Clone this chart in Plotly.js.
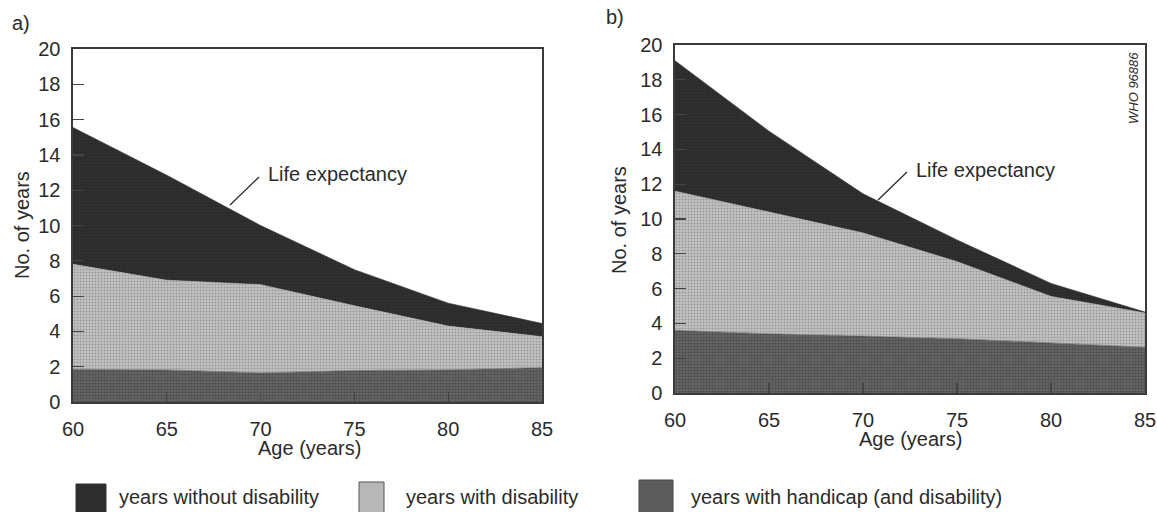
<!DOCTYPE html>
<html>
<head>
<meta charset="utf-8">
<script src="https://cdn.plot.ly/plotly-3.0.1.min.js"></script>
<style>html,body{margin:0;padding:0;background:#fff}#chart{width:1157px;height:512px}</style>
</head>
<body>
<div id="chart"></div>
<script>
// ---- data ----
const ages = [60, 65, 70, 75, 80, 85];
const xTicks = [60, 65, 70, 75, 80, 85];
const yTicks = [0, 2, 4, 6, 8, 10, 12, 14, 16, 18, 20];

// Panel a)
const aHandicap   = [1.85, 1.82, 1.65, 1.78, 1.82, 1.95];
const aDisability = [5.95, 5.08, 5.00, 3.67, 2.48, 1.75];
const aWithout    = [7.75, 5.95, 3.35, 2.05, 1.30, 0.75];

// Panel b)
const bHandicap   = [3.60, 3.40, 3.27, 3.12, 2.88, 2.63];
const bDisability = [8.00, 7.00, 5.93, 4.43, 2.67, 1.97];
const bWithout    = [7.50, 4.65, 2.25, 1.25, 0.75, 0.05];

const seriesNames = ["years without disability", "years with disability", "years with handicap (and disability)"];
const panelLabels = ["a)", "b)"];
const annotText = "Life expectancy";
const codeText = "WHO 96886";

// ---- styling ----
const W = 1157, H = 512;
const px = x => x / W;
const py = y => 1 - y / H;
const FONT = "Liberation Sans, Arial, sans-serif";
const TXT = "#2b2b2b";
const FS = 20;

const styles = {
  without:   {color: "#2e2e2e", pattern: {shape: ".", bgcolor: "#303030", fgcolor: "#272727", size: 3, solidity: 0.35}},
  disability:{color: "#b8b8b8", pattern: {shape: ".", bgcolor: "#c4c4c4", fgcolor: "#979797", size: 3, solidity: 0.35}},
  handicap:  {color: "#5c5c5c", pattern: {shape: ".", bgcolor: "#666666", fgcolor: "#4a4a4a", size: 3, solidity: 0.4}}
};

function stackTraces(xa, ya, group, handicap, disability, without) {
  const mk = (vals, st, name) => ({
    type: "scatter", mode: "lines", x: ages, y: vals, xaxis: xa, yaxis: ya,
    stackgroup: group, name: name, showlegend: false,
    line: {width: 0.6, color: st.color, shape: "linear"},
    fillcolor: st.color, fillpattern: st.pattern, hoverinfo: "x+y+name"
  });
  return [
    mk(handicap, styles.handicap, seriesNames[2]),
    mk(disability, styles.disability, seriesNames[1]),
    mk(without, styles.without, seriesNames[0])
  ];
}

const data = [
  ...stackTraces("x", "y", "a", aHandicap, aDisability, aWithout),
  ...stackTraces("x2", "y2", "b", bHandicap, bDisability, bWithout)
];

function xAxis(domain, anchor) {
  return {
    domain: domain, anchor: anchor, range: [60, 85], tickvals: xTicks,
    ticks: "inside", ticklen: 10, tickwidth: 1.2, tickcolor: "#444",
    showline: true, mirror: true, linecolor: "#3a3a3a", linewidth: 1.6,
    showgrid: false, zeroline: false, ticklabelstandoff: 8,
    ticklabeloverflow: "allow",
    tickfont: {family: FONT, size: FS, color: TXT}, fixedrange: true
  };
}
function yAxis(domain, anchor) {
  return {
    domain: domain, anchor: anchor, range: [0, 20], tickvals: yTicks,
    ticks: "inside", ticklen: 11, tickwidth: 1.2, tickcolor: "#444",
    showline: true, mirror: true, linecolor: "#3a3a3a", linewidth: 1.6,
    showgrid: false, zeroline: false, ticklabelstandoff: 7,
    ticklabeloverflow: "allow",
    tickfont: {family: FONT, size: FS, color: TXT}, fixedrange: true
  };
}

const A = {l: 73, r: 542, t: 49, b: 402};
const B = {l: 675, r: 1145, t: 45, b: 393};

const ann = (x, y, text, extra) => Object.assign({
  xref: "paper", yref: "paper", x: px(x), y: py(y), text: text, showarrow: false,
  font: {family: FONT, size: FS, color: TXT}, xanchor: "center", yanchor: "middle"
}, extra || {});

const annotations = [
  ann(21, 23, panelLabels[0]),
  ann(615, 17, panelLabels[1]),
  ann(22, 225, "No. of years", {textangle: -90}),
  ann(619, 220, "No. of years", {textangle: -90}),
  ann(309, 448, "Age (years)"),
  ann(910, 439, "Age (years)"),
  ann(266, 174, annotText, {xanchor: "left"}),
  ann(914, 170, annotText, {xanchor: "left"}),
  ann(1133, 88, codeText, {textangle: -90, font: {family: FONT, size: 13, color: TXT, style: "italic"}}),
  ann(117, 497, seriesNames[0], {xanchor: "left"}),
  ann(404, 497, seriesNames[1], {xanchor: "left"}),
  ann(689, 497, seriesNames[2], {xanchor: "left"})
];

const rect = (x0, y0, x1, y1, fill, line) => ({
  type: "rect", xref: "paper", yref: "paper",
  x0: px(x0), x1: px(x1), y0: py(y1), y1: py(y0),
  fillcolor: fill, line: {color: line, width: 1}
});
const seg = (x0, y0, x1, y1) => ({
  type: "line", xref: "paper", yref: "paper",
  x0: px(x0), y0: py(y0), x1: px(x1), y1: py(y1),
  line: {color: "#2b2b2b", width: 1.3}
});

const shapes = [
  seg(259, 177, 230, 205),
  seg(907, 172, 878, 200),
  rect(76, 484, 106, 514, styles.without.color, "#333"),
  rect(359, 482, 384, 514, styles.disability.color, "#555"),
  rect(639, 480, 673, 514, styles.handicap.color, "#444")
];

const layout = {
  width: W, height: H, margin: {l: 0, r: 0, t: 0, b: 0},
  paper_bgcolor: "#ffffff", plot_bgcolor: "#ffffff",
  showlegend: false,
  xaxis: xAxis([px(A.l), px(A.r)], "y"),
  yaxis: yAxis([py(A.b), py(A.t)], "x"),
  xaxis2: xAxis([px(B.l), px(B.r)], "y2"),
  yaxis2: yAxis([py(B.b), py(B.t)], "x2"),
  annotations: annotations,
  shapes: shapes,
  font: {family: FONT, color: TXT}
};

Plotly.newPlot("chart", data, layout, {displayModeBar: false, staticPlot: true});
</script>
</body>
</html>
